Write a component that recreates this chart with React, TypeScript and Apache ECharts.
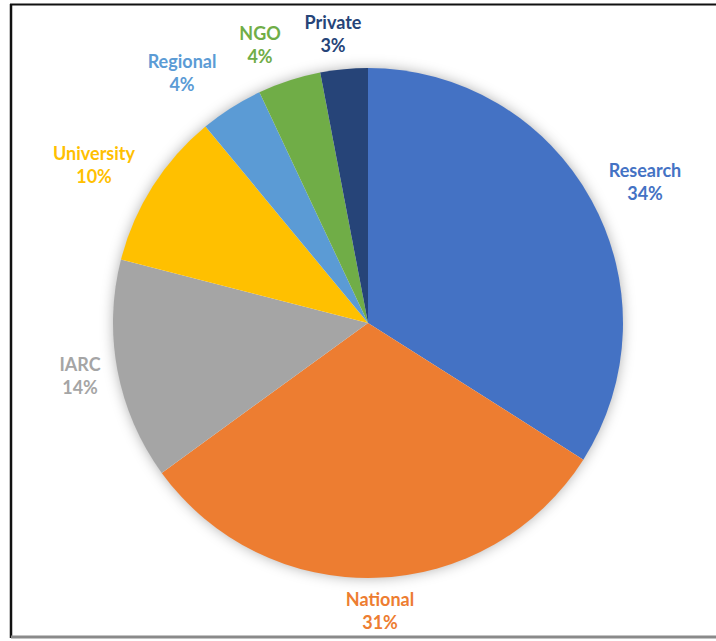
import React, { useEffect, useRef } from "react";
import * as echarts from "echarts";

const categories = ["Research", "National", "IARC", "University", "Regional", "NGO", "Private"];
const shares = [34, 31, 14, 10, 4, 4, 3];
const colors = ["#4472C4", "#ED7D31", "#A5A5A5", "#FFC000", "#5B9BD5", "#70AD47", "#264478"];
// centres of the two-line label blocks (layout only)
const labelAnchors: [number, number][] = [
  [645, 181],
  [380, 610],
  [80, 375],
  [94, 164],
  [182, 72],
  [260, 44],
  [333, 33],
];

const CX = 368;
const CY = 323;
const R = 255;

export default function App() {
  const ref = useRef<HTMLDivElement>(null);
  useEffect(() => {
    if (!ref.current) return;
    const chart = echarts.init(ref.current, null, { renderer: "svg" });
    chart.setOption({
      animation: false,
      backgroundColor: "#ffffff",
      graphic: [
        {
          type: "circle",
          z: 0,
          shape: { cx: CX, cy: CY, r: R - 1 },
          style: { fill: "#ffffff", shadowBlur: 14, shadowColor: "rgba(0,0,0,0.35)" },
          silent: true,
        },
        {
          type: "line",
          shape: { x1: 10, y1: 4.5, x2: 716, y2: 4.5 },
          style: { stroke: "#111", lineWidth: 2 },
          silent: true,
        },
        {
          type: "line",
          shape: { x1: 11, y1: 4, x2: 11, y2: 638 },
          style: { stroke: "#111", lineWidth: 2.5 },
          silent: true,
        },
        {
          type: "line",
          shape: { x1: 11, y1: 637, x2: 716, y2: 637 },
          style: { stroke: "#8a8a8a", lineWidth: 3 },
          silent: true,
        },
      ],
      series: [
        {
          type: "pie",
          z: 2,
          center: [CX, CY],
          radius: [0, R],
          startAngle: 90,
          clockwise: true,
          avoidLabelOverlap: false,
          data: categories.map((name, i) => ({
            name,
            value: shares[i],
            itemStyle: { color: colors[i] },
            label: { color: colors[i] },
          })),
          itemStyle: { borderWidth: 0 },
          labelLine: { show: false },
          label: {
            show: true,
            position: "outside",
            formatter: (p: any) => `${p.name}\n${p.value}%`,
            fontFamily: "Lato",
            fontWeight: "bold",
            fontSize: 18,
            lineHeight: 23,
            align: "center",
          },
          labelLayout: (params: any) => {
            const [x, y] = labelAnchors[params.dataIndex];
            return { x, y, align: "center", verticalAlign: "middle" };
          },
        },
      ],
    });
    return () => chart.dispose();
  }, []);
  return (
    <div
      ref={ref}
      style={{ position: "absolute", left: 0, top: 0, width: 716, height: 641 }}
    />
  );
}
